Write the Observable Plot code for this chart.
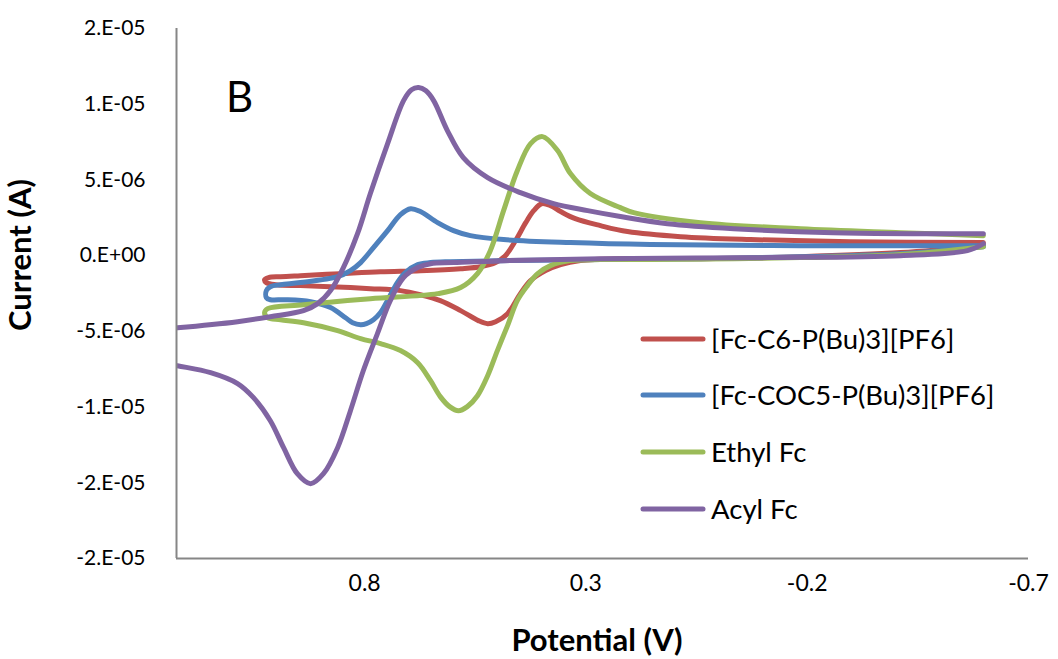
<!DOCTYPE html>
<html><head><meta charset="utf-8">
<script src="https://cdn.jsdelivr.net/npm/d3@7"></script>
<script src="https://cdn.jsdelivr.net/npm/@observablehq/plot@0.6"></script>
<style>
body{margin:0;background:#fff;}
#chart{width:1058px;height:659px;}
</style></head><body><div id="chart"></div>
<script>
const seriesNames = ["[Fc-C6-P(Bu)3][PF6]", "[Fc-COC5-P(Bu)3][PF6]", "Ethyl Fc", "Acyl Fc"];
const seriesColors = ["#C0504D", "#4F81BD", "#9BBB59", "#8064A2"];

// potential (V) and current (µA), in scan order
const redV = [-0.598,-0.411,-0.185,0.041,0.222,0.312,0.357,0.391,0.425,0.448,0.477,0.504,0.522,0.543,0.583,0.629,0.674,0.719,0.787,0.877,0.945,1.001,1.022,1.026,1.017,0.990,0.945,0.855,0.764,0.674,0.583,0.538,0.504,0.482,0.459,0.436,0.418,0.400,0.380,0.357,0.324,0.267,0.206,0.086,-0.072,-0.297,-0.598];
const redI = [0.66,0.20,-0.07,-0.20,-0.20,-0.33,-0.59,-0.99,-1.65,-2.51,-3.83,-4.36,-4.49,-4.29,-3.63,-2.97,-2.58,-2.31,-2.18,-2.05,-1.98,-1.92,-1.78,-1.59,-1.45,-1.39,-1.32,-1.19,-1.06,-0.99,-0.86,-0.73,-0.46,0,0.99,2.18,2.97,3.43,3.30,2.91,2.44,1.98,1.59,1.25,1.06,0.92,0.86];

const blueV = [-0.598,-0.411,-0.185,0.041,0.267,0.493,0.606,0.651,0.680,0.708,0.726,0.746,0.764,0.780,0.796,0.809,0.827,0.843,0.877,0.922,0.979,1.013,1.022,1.022,1.013,0.990,0.945,0.861,0.832,0.809,0.780,0.748,0.719,0.696,0.674,0.635,0.599,0.561,0.486,0.335,0.154,-0.185,-0.598];
const blueI = [0.59,0.13,-0.07,-0.20,-0.26,-0.33,-0.40,-0.46,-0.59,-1.12,-1.78,-2.84,-3.76,-4.23,-4.49,-4.56,-4.43,-4.10,-3.43,-3.04,-2.91,-2.91,-2.77,-2.31,-2.05,-1.92,-1.78,-1.39,-0.99,-0.46,0.53,1.65,2.71,3.10,2.91,2.18,1.65,1.32,1.06,0.86,0.73,0.66,0.66];

const greenV = [-0.598,-0.411,-0.185,0.154,0.267,0.335,0.380,0.409,0.432,0.455,0.477,0.500,0.522,0.545,0.568,0.588,0.608,0.629,0.651,0.680,0.719,0.764,0.809,0.861,0.938,0.990,1.019,1.026,1.019,0.938,0.787,0.635,0.583,0.545,0.516,0.486,0.455,0.425,0.398,0.364,0.335,0.290,0.222,0.192,0.041,-0.185,-0.411,-0.598];
const greenI = [0.59,0.07,-0.13,-0.26,-0.26,-0.33,-0.66,-1.19,-1.98,-2.97,-4.62,-6.27,-7.93,-9.25,-9.97,-10.24,-9.97,-9.31,-8.26,-7.07,-6.27,-5.81,-5.48,-4.95,-4.43,-4.23,-4.10,-3.76,-3.50,-3.24,-2.84,-2.51,-2.11,-1.19,0.33,2.97,5.61,7.40,7.86,6.94,5.42,4.10,3.17,2.84,2.18,1.78,1.52,1.32];

const purpleV = [-0.598,-0.562,-0.411,-0.110,0.267,0.486,0.599,0.651,0.680,0.712,0.742,0.771,0.803,0.832,0.861,0.893,0.922,0.952,0.983,1.013,1.051,1.087,1.148,1.223,1.284,1.329,1.284,1.223,1.087,1.013,0.938,0.906,0.877,0.848,0.816,0.787,0.748,0.712,0.694,0.678,0.662,0.644,0.613,0.577,0.522,0.448,0.373,0.296,0.222,0.116,-0.034,-0.259,-0.598];
const purpleI = [0.79,0.33,0,-0.13,-0.20,-0.33,-0.46,-0.53,-0.79,-1.45,-2.97,-5.15,-7.60,-10.24,-12.68,-14.40,-15.06,-14.40,-12.68,-10.90,-9.38,-8.45,-7.73,-7.27,-6.94,-5.94,-4.89,-4.76,-4.36,-4.03,-3.63,-3.17,-2.31,-0.79,1.45,4.10,7.40,10.24,10.96,11.10,10.90,10.24,8.26,6.47,5.15,4.16,3.43,2.97,2.58,2.11,1.78,1.52,1.45];

const xTicks = [0.8, 0.3, -0.2, -0.7];
const xTickLabels = ["0.8", "0.3", "-0.2", "-0.7"];
const yTicks = [-2e-5, -1.5e-5, -1e-5, -5e-6, 0, 5e-6, 1e-5, 1.5e-5];
const yTickLabels = ["-2.E-05", "-2.E-05", "-1.E-05", "-5.E-06", "0.E+00", "5.E-06", "1.E-05", "2.E-05"];
const xDomain = [1.225, -0.7];
const yDomain = [-2e-5, 1.5e-5];

const seriesV = [redV, blueV, greenV, purpleV];
const seriesI = [redI, blueI, greenI, purpleI];
const rows = [];
seriesNames.forEach((name, s) => {
  seriesV[s].forEach((v, k) => rows.push({series: name, v, i: seriesI[s][k] * 1e-6}));
});

const font = "Lato, 'Open Sans', sans-serif";
const axisColor = "#868686";

const plot = Plot.plot({
  width: 1058, height: 659,
  marginLeft: 176, marginRight: 30, marginTop: 28, marginBottom: 101,
  style: {fontFamily: font, background: "white", color: "black"},
  x: {domain: xDomain, label: null},
  y: {domain: yDomain, label: null},
  color: {domain: seriesNames, range: seriesColors},
  marks: [
    Plot.line(rows, {x: "v", y: "i", z: "series", stroke: "series", strokeWidth: 5,
      curve: "catmull-rom", clip: true, strokeLinecap: "round", strokeLinejoin: "round"}),
    Plot.ruleX([xDomain[0]], {stroke: axisColor, strokeWidth: 2}),
    Plot.ruleY([yDomain[0]], {stroke: axisColor, strokeWidth: 2}),
    Plot.axisY({ticks: yTicks, tickFormat: d => yTickLabels[yTicks.indexOf(d)], tickSize: 0, tickPadding: 31, fontSize: 21, label: null}),
    Plot.axisX({ticks: xTicks, tickFormat: d => xTickLabels[xTicks.indexOf(d)], tickSize: 0, tickPadding: 16, fontSize: 23, label: null})
  ]
});

const svg = d3.select(plot);
svg.append("text").attr("transform", "translate(31,255) rotate(-90)")
  .attr("text-anchor", "middle").attr("font-family", font).attr("font-weight", "bold")
  .attr("font-size", 31).attr("fill", "black").text("Current (A)");
svg.append("text").attr("x", 597).attr("y", 651)
  .attr("text-anchor", "middle").attr("font-family", font).attr("font-weight", "bold")
  .attr("font-size", 31).attr("fill", "black").text("Potential (V)");
svg.append("text").attr("x", 226).attr("y", 112).attr("text-anchor", "start")
  .attr("font-family", font).attr("font-size", 42).attr("fill", "black").text("B");

const legendY = [339, 395, 452, 509];
const lg = svg.append("g");
seriesNames.forEach((name, s) => {
  lg.append("line").attr("x1", 643).attr("x2", 703).attr("y1", legendY[s]).attr("y2", legendY[s])
    .attr("stroke", seriesColors[s]).attr("stroke-width", 5).attr("stroke-linecap", "round");
  lg.append("text").attr("x", 711).attr("y", legendY[s]).attr("dy", "0.35em").attr("text-anchor", "start")
    .attr("font-family", font).attr("font-size", 27.5).attr("fill", "black").text(name);
});

document.getElementById("chart").appendChild(plot);
</script>
</body></html>
